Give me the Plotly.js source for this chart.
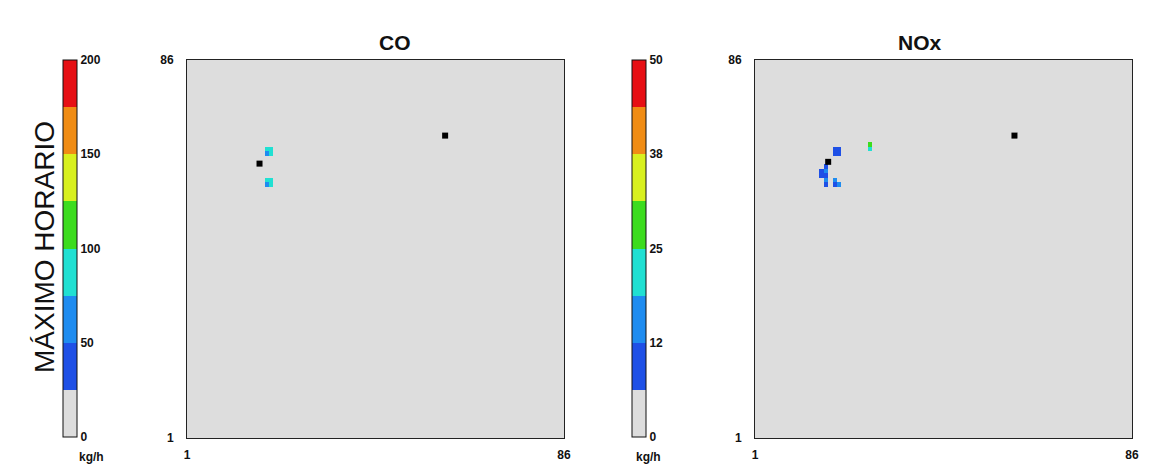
<!DOCTYPE html>
<html><head><meta charset="utf-8">
<script src="https://cdn.plot.ly/plotly-3.0.1.min.js"></script>
<style>html,body{margin:0;padding:0;background:#fff}#chart{width:1154px;height:466px}</style>
</head><body><div id="chart"></div>
<script>
const gridSize = 86;
const binColors = ['#dddddd','#1e50e6','#1e8cf0','#20e0d2','#3cdc1e','#d8f01e','#f08c14','#e60f14'];
const coTickVals = [0,50,100,150,200];
const coTickText = ['0','50','100','150','200'];
const noxTickVals = [0,12.5,25,37.5,50];
const noxTickText = ['0','12','25','38','50'];
const axisTickVals = [1,86];
const axisTickText = ['1','86'];

// CO hotspot cells (grid column, grid row, kg/h)
const coCellX = [19,20,19,20, 19,20,19,20];
const coCellY = [66,66,65,65, 59,59,58,58];
const coCellZ = [90,90,65,88, 90,92,62,85];
const coSrcX = [17.35, 59.2];
const coSrcY = [62.7, 69.0];

// NOx hotspot cells
const noxCellX = [19,20,19,20, 17,16,17,16,17,17,17, 19,20,19, 27,27];
const noxCellY = [66,66,65,65, 62,61,61,60,60,59,58, 59,58,58, 67,66];
const noxCellZ = [11,11,11,11, 10,10,14,10,11,14,10, 14,14,10, 28,22];
const noxSrcX = [17.5, 59.5];
const noxSrcY = [63.1, 69.0];

function buildGrid(cx, cy, cz){
  const z = [];
  for (let r = 0; r < gridSize; r++){ z.push(new Array(gridSize).fill(0)); }
  for (let i = 0; i < cx.length; i++){ z[cy[i]-1][cx[i]-1] = cz[i]; }
  return z;
}
function discreteScale(cols){
  const s = []; const n = cols.length;
  cols.forEach((c,i)=>{ s.push([i/n, c]); s.push([(i+1)/n, c]); });
  return s;
}
const idx = Array.from({length: gridSize}, (_, i) => i + 1);
const W = 1154, H = 466;
const tickFont = {family:'Liberation Sans, Arial', size:12, color:'#111', weight:'bold'};

function cbar(xpx, vals, text){
  return {x: xpx/W, xanchor:'left', xref:'paper', y: 1-437/H, yanchor:'bottom', yref:'paper',
    len: 377, lenmode:'pixels', thickness: 14, thicknessmode:'pixels',
    outlinecolor:'#111', outlinewidth:1, xpad:0, ypad:0,
    tickvals: vals, ticktext: text, ticks:'', tickfont: tickFont};
}

const traces = [
  {type:'heatmap', x: idx, y: idx, z: buildGrid(coCellX, coCellY, coCellZ), zmin:0, zmax:200,
   colorscale: discreteScale(binColors), xaxis:'x', yaxis:'y', colorbar: cbar(63, coTickVals, coTickText), hoverinfo:'skip'},
  {type:'scatter', mode:'markers', x: coSrcX, y: coSrcY, xaxis:'x', yaxis:'y',
   marker:{symbol:'square', size:6, color:'#000'}, showlegend:false},
  {type:'heatmap', x: idx, y: idx, z: buildGrid(noxCellX, noxCellY, noxCellZ), zmin:0, zmax:50,
   colorscale: discreteScale(binColors), xaxis:'x2', yaxis:'y2', colorbar: cbar(632, noxTickVals, noxTickText), hoverinfo:'skip'},
  {type:'scatter', mode:'markers', x: noxSrcX, y: noxSrcY, xaxis:'x2', yaxis:'y2',
   marker:{symbol:'square', size:6, color:'#000'}, showlegend:false}
];

function xax(d0, d1, anchor){
  return {domain:[d0/W, d1/W], anchor: anchor, range:[1,86], showgrid:false, zeroline:false,
    showline:true, mirror:true, linecolor:'#222', linewidth:1, tickvals: axisTickVals, ticktext: axisTickText,
    ticks:'', tickfont: tickFont, ticklabelstandoff: 6, fixedrange:true};
}
function yax(anchor){
  return {domain:[1-438/H, 1-60/H], anchor: anchor, range:[1,86], showgrid:false, zeroline:false,
    showline:true, mirror:true, linecolor:'#222', linewidth:1, tickvals: axisTickVals, ticktext: axisTickText,
    ticks:'', tickfont: tickFont, ticklabelstandoff: 10, fixedrange:true};
}

const layout = {
  width: W, height: H, margin:{l:0, r:0, t:0, b:0}, paper_bgcolor:'#fff', plot_bgcolor:'#dddddd',
  showlegend:false,
  xaxis: xax(187, 564, 'y'), yaxis: yax('x'),
  xaxis2: xax(755, 1132, 'y2'), yaxis2: yax('x2'),
  annotations: [
    {text:'CO', x: 377/W, y: 1-29/H, xref:'paper', yref:'paper', showarrow:false,
     font:{family:'Liberation Sans, Arial', size:21, color:'#111', weight:'bold'}},
    {text:'NOx', x: 944/W, y: 1-29/H, xref:'paper', yref:'paper', showarrow:false,
     font:{family:'Liberation Sans, Arial', size:21, color:'#111', weight:'bold'}},
    {text:'MÁXIMO HORARIO', x: 26.5/W, y: 1-247/H, xref:'paper', yref:'paper', showarrow:false, textangle:-90,
     font:{family:'Liberation Sans, Arial', size:28, color:'#111'}},
    {text:'kg/h', x: 78/W, y: 1-449/H, xref:'paper', yref:'paper', yanchor:'top', borderpad:0, showarrow:false,
     font:{family:'Liberation Sans, Arial', size:12, color:'#111', weight:'bold'}},
    {text:'kg/h', x: 648/W, y: 1-449/H, xref:'paper', yref:'paper', yanchor:'top', borderpad:0, showarrow:false,
     font:{family:'Liberation Sans, Arial', size:12, color:'#111', weight:'bold'}}
  ]
};
Plotly.newPlot('chart', traces, layout, {staticPlot:true, displayModeBar:false});
</script>
</body></html>
